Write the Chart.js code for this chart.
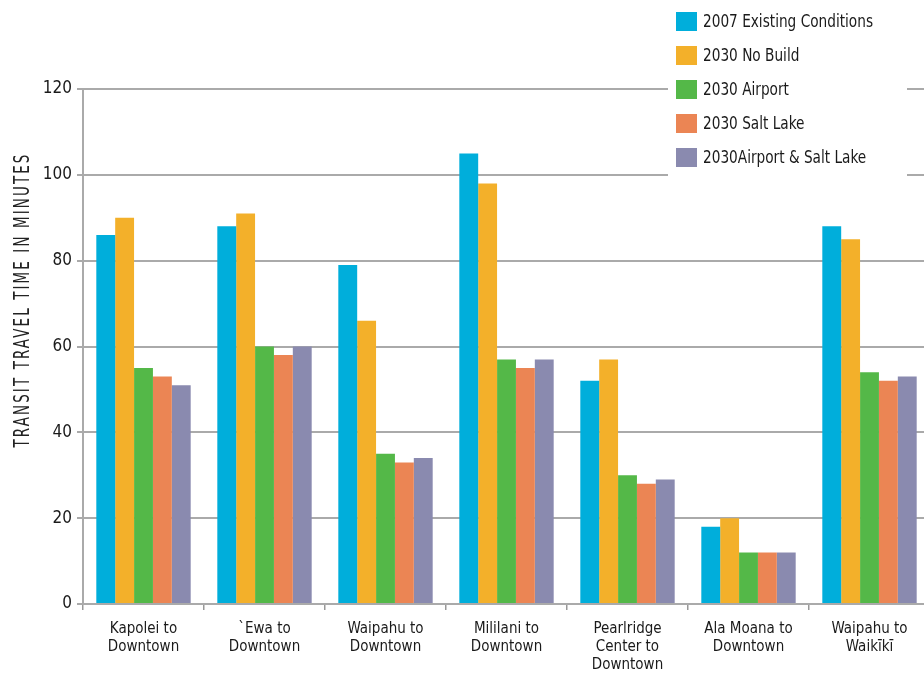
<!DOCTYPE html>
<html>
<head>
<meta charset="utf-8">
<script src="https://cdn.jsdelivr.net/npm/chart.js@4.4.1/dist/chart.umd.min.js"></script>
<style>
html,body{margin:0;padding:0;background:#fff;overflow:hidden;}
#wrap{width:930px;height:675px;}
</style>
</head>
<body>
<div id="wrap"><canvas id="c" width="930" height="675"></canvas></div>
<script>
const categories = [
  ["Kapolei to", "Downtown"],
  ["`Ewa to", "Downtown"],
  ["Waipahu to", "Downtown"],
  ["Mililani to", "Downtown"],
  ["Pearlridge", "Center to", "Downtown"],
  ["Ala Moana to", "Downtown"],
  ["Waipahu to", "Waikīkī"]
];
const seriesNames = ["2007 Existing Conditions", "2030 No Build", "2030 Airport", "2030 Salt Lake", "2030Airport & Salt Lake"];
const existing2007 = [86, 88, 79, 105, 52, 18, 88];
const noBuild2030 = [90, 91, 66, 98, 57, 20, 85];
const airport2030 = [55, 60, 35, 57, 30, 12, 54];
const saltLake2030 = [53, 58, 33, 55, 28, 12, 52];
const airportSaltLake2030 = [51, 60, 34, 57, 29, 12, 53];
const yTicks = [0, 20, 40, 60, 80, 100, 120];
const yTitle = "TRANSIT TRAVEL TIME IN MINUTES";
const colors = ["#00AEDB", "#F3B02A", "#54B848", "#EB8554", "#8A8AAF"];

const FONT = "'DejaVu Sans Condensed', sans-serif";
const seriesData = [existing2007, noBuild2030, airport2030, saltLake2030, airportSaltLake2030];

const decorPlugin = {
  id: 'decor',
  afterDraw(chart) {
    const ctx = chart.ctx;
    // legend box
    ctx.save();
    ctx.fillStyle = '#fff';
    ctx.fillRect(668, 0, 239, 180);
    const centers = [21.5, 55.5, 89.5, 123.5, 157.5];
    ctx.font = "18px " + FONT;
    ctx.textBaseline = 'middle';
    ctx.textAlign = 'left';
    const sx = 170 / ctx.measureText(seriesNames[0]).width;
    seriesNames.forEach((n, i) => {
      ctx.fillStyle = colors[i];
      ctx.fillRect(676, centers[i] - 9.5, 21, 19);
      ctx.save();
      ctx.translate(703, centers[i] + 1);
      ctx.scale(sx, 1);
      ctx.fillStyle = '#1a1a1a';
      ctx.fillText(n, 0, 0);
      ctx.restore();
    });
    ctx.restore();
    // y axis title
    ctx.save();
    ctx.font = "21px " + FONT;
    ctx.letterSpacing = "3px";
    ctx.fillStyle = '#222';
    ctx.textAlign = 'center';
    ctx.textBaseline = 'middle';
    const w = ctx.measureText(yTitle).width;
    ctx.translate(24, 300);
    ctx.rotate(-Math.PI / 2);
    ctx.scale(295 / w, 1);
    ctx.fillText(yTitle, 0, 0);
    ctx.restore();
  }
};

new Chart(document.getElementById('c'), {
  type: 'bar',
  data: {
    labels: categories,
    datasets: seriesNames.map((n, i) => ({
      label: n,
      data: seriesData[i],
      backgroundColor: colors[i],
      borderWidth: 0,
      categoryPercentage: 0.78,
      barPercentage: 1.0
    }))
  },
  options: {
    responsive: false,
    animation: false,
    layout: { padding: { top: 89, left: 0, right: 0, bottom: 0 } },
    plugins: {
      legend: { display: false },
      tooltip: { enabled: false }
    },
    scales: {
      x: {
        offset: true,
        afterFit(scale) { scale.height = 71; },
        grid: { display: true, drawOnChartArea: false, drawTicks: true, tickLength: 6, color: '#999', lineWidth: 1.5 },
        border: { display: true, color: '#aaa', width: 2 },
        ticks: { color: '#1a1a1a', font: { family: FONT, size: 15, lineHeight: 1.2 }, padding: 10, maxRotation: 0, autoSkip: false }
      },
      y: {
        min: 0, max: 120,
        afterFit(scale) { scale.width = 83; },
        afterBuildTicks(scale) { scale.ticks = yTicks.map(v => ({ value: v })); },
        grid: { color: '#aaa', lineWidth: 2, tickLength: 6, drawTicks: true },
        border: { display: true, color: '#aaa', width: 2 },
        ticks: { color: '#1a1a1a', font: { family: FONT, size: 17 }, padding: 5 }
      }
    }
  },
  plugins: [decorPlugin]
});
</script>
</body>
</html>
